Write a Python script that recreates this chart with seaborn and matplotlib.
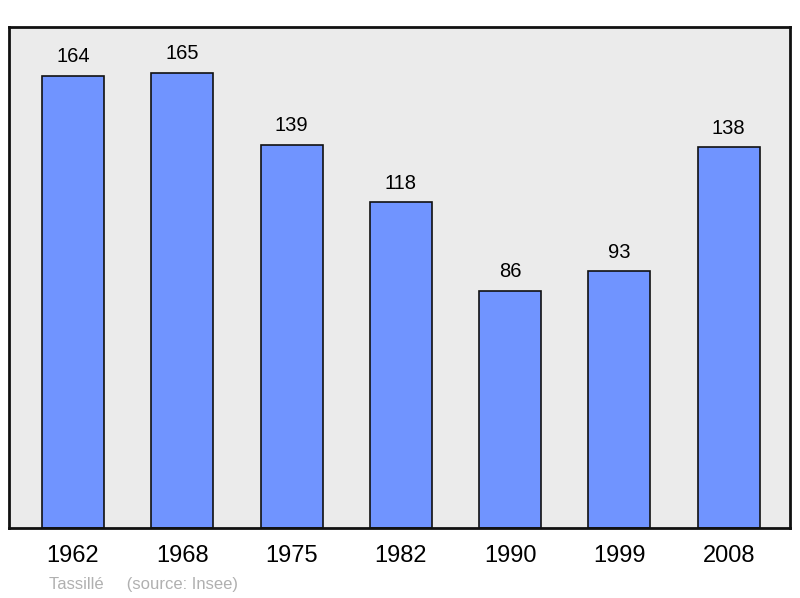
import pandas as pd
import matplotlib
matplotlib.use("Agg")
import matplotlib.pyplot as plt
import seaborn as sns

# Population data
years = ["1962", "1968", "1975", "1982", "1990", "1999", "2008"]
population = [164, 165, 139, 118, 86, 93, 138]

df = pd.DataFrame({"year": years, "population": population})

sns.set_style("white")
plt.rcParams["font.family"] = ["Liberation Sans", "DejaVu Sans"]

fig = plt.figure(figsize=(8, 5.98), dpi=100)
ax = fig.add_axes([0.01125, 0.117, 0.97625, 0.8378])
ax.set_facecolor("#ebebeb")

sns.barplot(data=df, x="year", y="population", color="#7094ff", saturation=1,
            width=0.567, edgecolor="#111111", linewidth=1.2, ax=ax)

for i, v in enumerate(population):
    ax.annotate(str(v), (i, v), xytext=(0, 7), textcoords="offset points",
                ha="center", va="bottom", fontsize=14.5, color="black")

ax.set_ylim(0, 181.6)
ax.set_xlim(-0.585, 6.56)
ax.set_yticks([])
ax.set_xlabel("")
ax.set_ylabel("")
ax.tick_params(axis="x", length=0, labelsize=17, pad=12, labelcolor="black")
for s in ax.spines.values():
    s.set_visible(True)
    s.set_linewidth(2)
    s.set_color("#111111")

fig.text(0.061, 0.015, "Tassillé     (source: Insee)", fontsize=12, color="#b0b0b0")

plt.savefig("out.png", dpi=100)
